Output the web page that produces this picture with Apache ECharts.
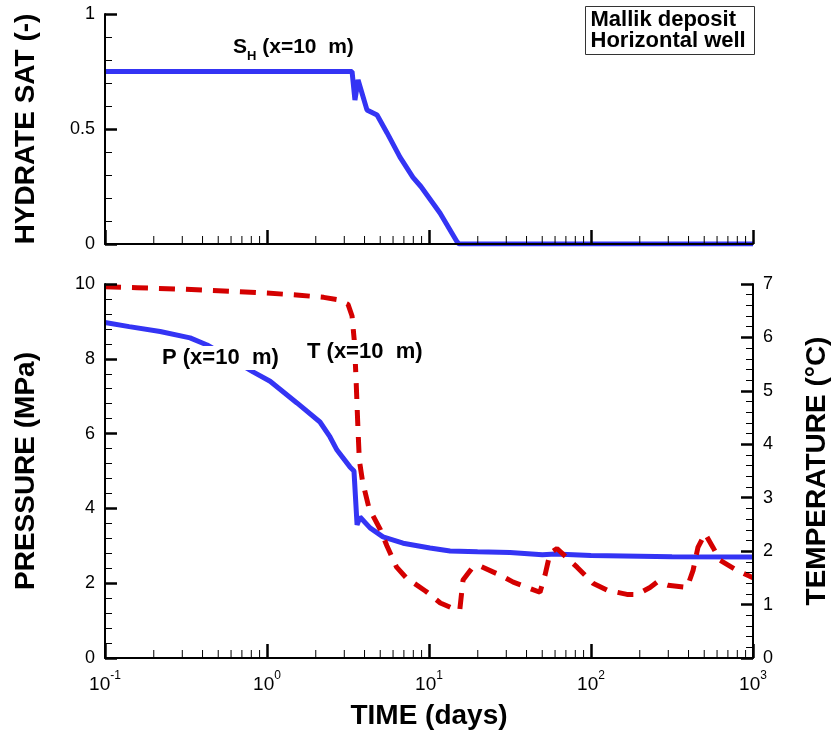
<!DOCTYPE html>
<html>
<head>
<meta charset="utf-8">
<script src="https://cdn.jsdelivr.net/npm/echarts@6/dist/echarts.min.js"></script>
<style>
  html, body { margin: 0; padding: 0; background: #fff; }
  #chart { width: 833px; height: 736px; }
</style>
</head>
<body>
<div id="chart"></div>
<script>
// Hydrate saturation at x = 10 m
const satDays   = [0.1, 3.35, 3.49, 3.65, 4.14, 4.78, 5.51, 6.62, 7.96, 8.91, 11.69, 14.89, 15.31, 1000];
const satValues = [0.75, 0.75, 0.626, 0.713, 0.583, 0.561, 0.483, 0.378, 0.29, 0.25, 0.135, 0.01, 0, 0];

// Pressure at x = 10 m (MPa)
const presDays   = [0.1, 0.141, 0.219, 0.335, 0.427, 0.589, 0.82, 1.045, 1.531, 2.123, 2.449, 2.704, 3.251, 3.443,
                    3.597, 3.75, 4.325, 5.2, 6.918, 10.14, 13.49, 19.95, 31.62, 50.12, 60.26, 100, 316.2, 1000];
const presValues = [8.97, 8.86, 8.73, 8.56, 8.37, 8.02, 7.65, 7.4, 6.82, 6.31, 5.91, 5.56, 5.11, 5.0,
                    3.56, 3.77, 3.48, 3.24, 3.07, 2.94, 2.86, 2.84, 2.82, 2.76, 2.78, 2.74, 2.71, 2.7];

// Temperature at x = 10 m (°C)
const tempDays   = [0.1, 0.158, 0.316, 0.631, 1.0, 1.585, 2.239, 2.692, 3.162, 3.35, 3.467, 3.548, 3.631, 3.715,
                    3.89, 4.266, 5.012, 5.495, 6.31, 7.244, 9.55, 11.75, 14.79, 15.49, 16.22, 18.41, 20.65,
                    27.54, 33.11, 48.42, 52.0, 55.85, 61.66, 82.04, 102.8, 125.6, 166.7, 192.3, 231.2, 255.3,
                    298.5, 391.7, 426.6, 457.1, 505.8, 566.2, 625.2, 796.2, 1000];
const tempValues = [6.95, 6.93, 6.9, 6.86, 6.83, 6.79, 6.75, 6.71, 6.62, 6.4, 5.9, 5.2, 4.4, 3.7,
                    3.3, 2.8, 2.4, 2.1, 1.7, 1.5, 1.25, 1.03, 0.9, 0.9, 1.46, 1.68, 1.72,
                    1.55, 1.42, 1.23, 1.55, 1.96, 2.05, 1.7, 1.4, 1.27, 1.19, 1.19, 1.32, 1.42,
                    1.36, 1.32, 1.64, 2.07, 2.33, 2.07, 1.83, 1.64, 1.5];

// Intermediate log-decade tick positions on the time axis
const minorTickDays = [0.2, 0.3, 0.4, 0.5, 0.6, 0.7, 0.8, 0.9,
                       2, 3, 4, 5, 6, 7, 8, 9,
                       20, 30, 40, 50, 60, 70, 80, 90,
                       200, 300, 400, 500, 600, 700, 800, 900];

const FONT = "'Liberation Sans', Arial, Helvetica, sans-serif";
const BLUE = '#3434f4';
const RED = '#d40000';

const zip = (xs, ys) => xs.map((x, i) => [x, ys[i]]);

const axisLineStyle = { lineStyle: { color: '#000', width: 2 } };
const nameStyle = { fontFamily: FONT, fontSize: 28, fontWeight: 'bold', color: '#000' };
const labelStyle = { fontFamily: FONT, fontSize: 18, color: '#000' };

function timeAxis(gridIndex, showLabels) {
  return {
    gridIndex, type: 'log', logBase: 10, min: 0.1, max: 1000, z: 10,
    axisLine: axisLineStyle,
    axisTick: { inside: true, length: 14, lineStyle: { color: '#000', width: 2.5 } },
    splitLine: { show: false },
    axisLabel: showLabels ? {
      margin: 12,
      formatter: v => '{b|10}{s|' + Math.round(Math.log10(v)) + '}',
      rich: {
        b: { fontFamily: FONT, fontSize: 19, color: '#000', lineHeight: 24, verticalAlign: 'bottom' },
        s: { fontFamily: FONT, fontSize: 12, color: '#000', lineHeight: 24, verticalAlign: 'top' }
      }
    } : { show: false },
    name: showLabels ? 'TIME (days)' : '',
    nameLocation: 'middle', nameGap: 44, nameTextStyle: nameStyle
  };
}

function valueAxis(gridIndex, position, min, max, interval, name, nameGap) {
  return {
    gridIndex, type: 'value', position, min, max, interval, z: 10,
    axisLine: { show: true, ...axisLineStyle },
    axisTick: { show: true, inside: true, length: 12, lineStyle: { color: '#000', width: 2.5 } },
    minorTick: { show: true, splitNumber: 5, length: 7, lineStyle: { color: '#000', width: 1 } },
    splitLine: { show: false },
    axisLabel: { ...labelStyle, margin: 10 },
    name, nameLocation: 'middle', nameRotate: 90, nameGap, nameTextStyle: nameStyle
  };
}

// Short upward ticks at the 2..9 positions of each decade
function minorTickSeries(xIdx, yIdx) {
  return {
    type: 'custom', xAxisIndex: xIdx, yAxisIndex: yIdx, silent: true, z: 11, clip: false,
    data: minorTickDays.map(d => [d]),
    renderItem: (params, api) => {
      const p = api.coord([api.value(0), 0]);
      return {
        type: 'line',
        shape: { x1: p[0], y1: p[1], x2: p[0], y2: p[1] - 8 },
        style: { stroke: '#000', lineWidth: 1 }
      };
    }
  };
}

const chart = echarts.init(document.getElementById('chart'), null, { renderer: 'canvas' });

chart.setOption({
  backgroundColor: '#fff',
  animation: false,
  textStyle: { fontFamily: FONT },
  grid: [
    { left: 105, right: 80, top: 14, height: 230, containLabel: false, outerBoundsMode: 'none' },
    { left: 105, right: 80, top: 284, height: 374, containLabel: false, outerBoundsMode: 'none' }
  ],
  xAxis: [timeAxis(0, false), timeAxis(1, true)],
  yAxis: [
    valueAxis(0, 'left', 0, 1, 0.5, 'HYDRATE SAT (-)', 65),
    valueAxis(1, 'left', 0, 10, 2, 'PRESSURE (MPa)', 65),
    valueAxis(1, 'right', 0, 7, 1, 'TEMPERATURE (\u00B0C)', 50)
  ],
  series: [
    {
      name: 'SH', type: 'line', xAxisIndex: 0, yAxisIndex: 0, showSymbol: false, symbol: 'none',
      lineStyle: { color: BLUE, width: 5 }, data: zip(satDays, satValues), z: 3
    },
    {
      name: 'P', type: 'line', xAxisIndex: 1, yAxisIndex: 1, showSymbol: false, symbol: 'none',
      lineStyle: { color: BLUE, width: 5 }, data: zip(presDays, presValues), z: 3
    },
    {
      name: 'T', type: 'line', xAxisIndex: 1, yAxisIndex: 2, showSymbol: false, symbol: 'none',
      lineStyle: { color: RED, width: 5, type: [16, 11], cap: 'butt' }, data: zip(tempDays, tempValues), z: 4
    },
    minorTickSeries(0, 0),
    minorTickSeries(1, 1)
  ],
  graphic: [
    {
      type: 'text', left: 233, top: 37, z: 20,
      style: {
        text: '{m|S}{sub|H}{m| (x=10  m)}',
        rich: {
          m: { fontFamily: FONT, fontSize: 21, fontWeight: 'bold', fill: '#000', lineHeight: 26, verticalAlign: 'top' },
          sub: { fontFamily: FONT, fontSize: 13, fontWeight: 'bold', fill: '#000', lineHeight: 26, verticalAlign: 'bottom' }
        }
      }
    },
    {
      type: 'text', left: 159, top: 346, z: 20,
      style: {
        text: 'P (x=10  m)', fontFamily: FONT, fontSize: 22, fontWeight: 'bold', fill: '#000',
        backgroundColor: '#fff', padding: [1, 3, 1, 3]
      }
    },
    {
      type: 'text', left: 304, top: 340, z: 20,
      style: {
        text: 'T (x=10  m)', fontFamily: FONT, fontSize: 22, fontWeight: 'bold', fill: '#000',
        backgroundColor: '#fff', padding: [1, 3, 1, 3]
      }
    },
    {
      type: 'group', left: 585, top: 6, z: 20,
      children: [
        { type: 'rect', shape: { x: 0, y: 0, width: 169, height: 48 }, style: { fill: '#fff', stroke: '#333', lineWidth: 1 } },
        {
          type: 'text', x: 5, y: 3,
          style: {
            text: 'Mallik deposit\nHorizontal well', fontFamily: FONT, fontSize: 22, fontWeight: 'bold',
            fill: '#000', lineHeight: 21
          }
        }
      ]
    }
  ]
});
</script>
</body>
</html>
